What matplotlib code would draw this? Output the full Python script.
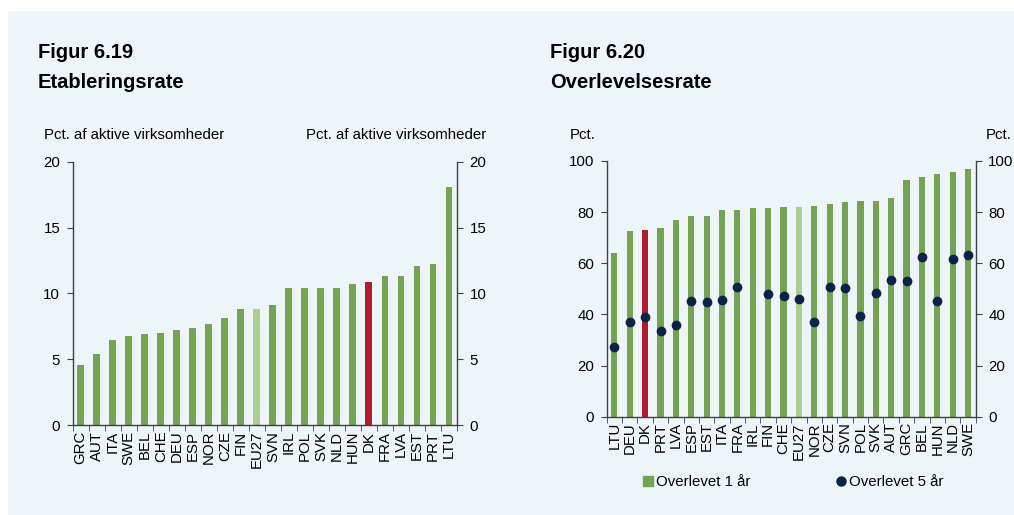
import matplotlib
matplotlib.use("Agg")
import matplotlib.pyplot as plt
from matplotlib.patches import Rectangle
from matplotlib.lines import Line2D

plt.rcParams['font.family'] = ['Liberation Sans', 'DejaVu Sans']

# Figur 6.19 - Etableringsrate
etab_lande = ['GRC', 'AUT', 'ITA', 'SWE', 'BEL', 'CHE', 'DEU', 'ESP', 'NOR', 'CZE', 'FIN', 'EU27',
              'SVN', 'IRL', 'POL', 'SVK', 'NLD', 'HUN', 'DK', 'FRA', 'LVA', 'EST', 'PRT', 'LTU']
etab_rate = [4.6, 5.4, 6.5, 6.8, 6.9, 7.0, 7.2, 7.4, 7.7, 8.1, 8.8, 8.8,
             9.1, 10.4, 10.4, 10.4, 10.4, 10.7, 10.9, 11.3, 11.3, 12.1, 12.2, 18.1]

# Figur 6.20 - Overlevelsesrate
overl_lande = ['LTU', 'DEU', 'DK', 'PRT', 'LVA', 'ESP', 'EST', 'ITA', 'FRA', 'IRL', 'FIN', 'CHE',
               'EU27', 'NOR', 'CZE', 'SVN', 'POL', 'SVK', 'AUT', 'GRC', 'BEL', 'HUN', 'NLD', 'SWE']
overlevet_1 = [64.2, 72.8, 73.0, 73.8, 77.0, 78.5, 78.6, 80.9, 81.0, 81.6, 81.8, 82.0,
               82.0, 82.4, 83.0, 84.0, 84.2, 84.5, 85.6, 92.5, 93.6, 95.0, 95.6, 97.0]
overlevet_5 = [27.2, 37.2, 39.1, 33.4, 36.0, 45.2, 44.8, 45.7, 50.8, None, 48.1, 47.3,
               46.1, 36.9, 50.7, 50.5, 39.4, 48.4, 53.6, 53.2, 62.5, 45.2, 61.8, 63.1]

BG = '#EEF5F9'
GREEN = '#74A356'
LIGHT = '#AACF8E'
RED = '#B01B2E'
NAVY = '#0C2348'
AXC = '#404040'
FS = 10.8


def farve(land):
    if land == 'DK':
        return RED
    if land == 'EU27':
        return LIGHT
    return GREEN


def style_ax(ax, n, ymax, step):
    ax.set_facecolor('none')
    ax.set_xlim(-0.5, n - 0.5)
    ax.set_ylim(0, ymax)
    ax.set_yticks(range(0, ymax + 1, step))
    ax.spines['top'].set_visible(False)
    for s in ['left', 'right', 'bottom']:
        ax.spines[s].set_color(AXC)
        ax.spines[s].set_linewidth(1.0)
    ax.tick_params(axis='y', left=True, right=True, labelleft=True, labelright=True,
                   direction='out', length=4, color=AXC, labelsize=FS, pad=5)
    ax.set_xticks([i - 0.5 for i in range(n + 1)], minor=True)
    ax.tick_params(axis='x', which='minor', direction='out', length=4, color=AXC)
    ax.tick_params(axis='x', which='major', length=0, labelsize=FS, pad=4)


fig = plt.figure(figsize=(10.14, 5.15), dpi=100)
fig.patch.set_facecolor('white')
fig.add_artist(Rectangle((8 / 1014, 0), 1 - 8 / 1014, 1 - 11 / 515, transform=fig.transFigure,
                         facecolor=BG, edgecolor='none', zorder=-10))

# Venstre figur
ax1 = fig.add_axes([0.0717, 0.1742, 0.379, 0.512])
x1 = range(len(etab_lande))
ax1.bar(x1, etab_rate, width=0.43, color=[farve(l) for l in etab_lande], zorder=2)
style_ax(ax1, len(etab_lande), 20, 5)
ax1.set_xticks(list(x1))
ax1.set_xticklabels(etab_lande, rotation=90)

fig.text(38 / 1014, 1 - 53 / 515, 'Figur 6.19', fontsize=14.5, fontweight='bold', va='center')
fig.text(38 / 1014, 1 - 82 / 515, 'Etableringsrate', fontsize=14.5, fontweight='bold', va='center')
fig.text(44 / 1014, 1 - 135 / 515, 'Pct. af aktive virksomheder', fontsize=FS, va='center')
fig.text(486 / 1014, 1 - 135 / 515, 'Pct. af aktive virksomheder', fontsize=FS, va='center', ha='right')

# Højre figur
ax2 = fig.add_axes([0.5983, 0.1909, 0.364, 0.4965])
x2 = list(range(len(overl_lande)))
ax2.bar(x2, overlevet_1, width=0.4, color=[farve(l) for l in overl_lande], zorder=2)
px = [i for i, v in zip(x2, overlevet_5) if v is not None]
py = [v for v in overlevet_5 if v is not None]
ax2.scatter(px, py, s=36, color=NAVY, zorder=3)
style_ax(ax2, len(overl_lande), 100, 20)
ax2.set_xticks(x2)
ax2.set_xticklabels(overl_lande, rotation=90)

fig.text(550 / 1014, 1 - 53 / 515, 'Figur 6.20', fontsize=14.5, fontweight='bold', va='center')
fig.text(550 / 1014, 1 - 82 / 515, 'Overlevelsesrate', fontsize=14.5, fontweight='bold', va='center')
fig.text(570 / 1014, 1 - 135 / 515, 'Pct.', fontsize=FS, va='center')
fig.text(1012 / 1014, 1 - 135 / 515, 'Pct.', fontsize=FS, va='center', ha='right')

handles = [Line2D([], [], marker='s', linestyle='none', color=GREEN, markersize=6.5),
           Line2D([], [], marker='o', linestyle='none', color=NAVY, markersize=6.5)]
fig.legend(handles, ['Overlevet 1 år', 'Overlevet 5 år'], loc='center',
           bbox_to_anchor=(792 / 1014, 1 - 482 / 515), ncol=2, frameon=False,
           fontsize=FS, handletextpad=0.05, columnspacing=5.5, handlelength=1)

fig.savefig('out.png', dpi=100, facecolor='white')
